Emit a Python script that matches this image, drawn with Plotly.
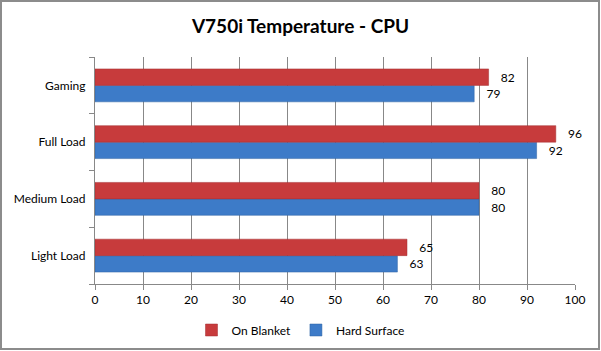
import plotly.graph_objects as go

categories = ["Light Load", "Medium Load", "Full Load", "Gaming"]
on_blanket = [65, 80, 96, 82]
hard_surface = [63, 80, 92, 79]
x_ticks = [0, 10, 20, 30, 40, 50, 60, 70, 80, 90, 100]

W, H = 601, 351
ml, mr, mt, mb = 95, 26, 57, 67
pw, ph = W - ml - mr, H - mt - mb

font = "Lato, 'Open Sans', sans-serif"

fig = go.Figure()
fig.add_trace(go.Bar(
    y=categories, x=hard_surface, orientation="h", name="Hard Surface",
    marker=dict(color="#3D7BC8", line=dict(color="#2F62A3", width=0.5)),
    text=hard_surface, texttemplate="   %{x}", textposition="outside", cliponaxis=False,
    textfont=dict(size=12, color="#000000", family=font),
))
fig.add_trace(go.Bar(
    y=categories, x=on_blanket, orientation="h", name="On Blanket",
    marker=dict(color="#C73B3C", line=dict(color="#A32F30", width=0.5)),
    text=on_blanket, texttemplate="   %{x}", textposition="outside", cliponaxis=False,
    textfont=dict(size=12, color="#000000", family=font),
))

x0p = -(ml - 1) / pw
x1p = (W - 2 - ml) / pw
y0p = -(H - 2 - mt - ph) / ph
y1p = 1 + (mt - 1) / ph

fig.update_layout(
    width=W, height=H,
    margin=dict(l=ml, r=mr, t=mt, b=mb, autoexpand=False),
    paper_bgcolor="white", plot_bgcolor="white",
    barmode="group", bargap=0.42, bargroupgap=0,
    title=dict(text="<b>V750i Temperature - CPU</b>", x=0.5, xref="container",
               xanchor="center", y=1 - 26 / H, yanchor="middle",
               font=dict(size=19, family=font, color="#000000")),
    font=dict(family=font, size=12, color="#000000"),
    showlegend=True,
    legend=dict(orientation="h", traceorder="reversed", xref="container", x=0.5,
                xanchor="center", yref="container", y=21 / H, yanchor="middle",
                font=dict(size=12, family=font), itemwidth=30, bgcolor="rgba(0,0,0,0)"),
    xaxis=dict(range=[0, 100], tickvals=x_ticks, showgrid=True, gridcolor="#888888",
               gridwidth=1, showline=True, linecolor="#888888", ticks="outside",
               tickcolor="#888888", ticklen=5, zeroline=False, automargin=False,
               tickfont=dict(size=12, family=font)),
    yaxis=dict(type="category", categoryorder="array", categoryarray=categories,
               showgrid=False, showline=True, linecolor="#888888", ticks="outside",
               tickson="boundaries", tickcolor="#888888", ticklen=5, automargin=False,
               tickfont=dict(size=12, family=font), ticksuffix="  "),
    shapes=[dict(type="rect", xref="paper", yref="paper", x0=x0p, x1=x1p,
                 y0=y0p, y1=y1p, line=dict(color="#8C8C8C", width=2), layer="above")],
)

fig.write_html("out.html")
